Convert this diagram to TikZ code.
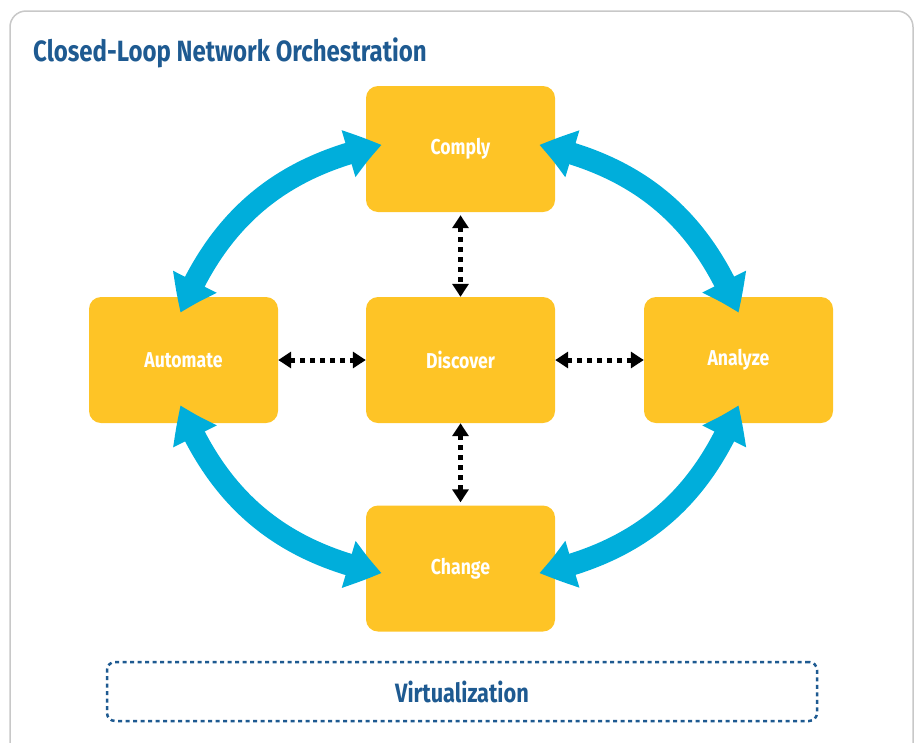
\documentclass[tikz,border=0pt]{standalone}
\usepackage{fontspec}
\setmainfont{Fira Sans}
\newfontfamily\condfont[FakeStretch=0.82]{Fira Sans}
\usetikzlibrary{arrows.meta,bending}
\definecolor{boxyellow}{RGB}{254,196,38}
\definecolor{loopblue}{RGB}{0,174,219}
\definecolor{titleblue}{RGB}{30,90,145}
\definecolor{framegray}{RGB}{200,200,200}
\begin{document}
\begin{tikzpicture}[x=1pt,y=-1pt,
  stagebox/.style={fill=boxyellow, rounded corners=12pt, minimum width=189pt, minimum height=126pt, inner sep=0pt, text=white, font=\condfont\bfseries\fontsize{21.5}{26}\selectfont},
  loopbi/.style={draw=loopblue, line width=22pt, {Triangle[length=35pt,width=46pt,bend]}-{Triangle[length=35pt,width=46pt,bend]}},
  linkbi/.style={draw=black, line width=5pt, dash pattern=on 5pt off 5pt, {Triangle[length=13pt,width=16pt]}-{Triangle[length=13pt,width=16pt]}},
  virtbox/.style={draw=titleblue, line width=2.5pt, dash pattern=on 4pt off 3.5pt, rounded corners=8pt, minimum width=710pt, minimum height=59pt, inner sep=0pt, text=titleblue, font=\condfont\bfseries\fontsize{26.5}{31}\selectfont},
]
\useasboundingbox (0,0) rectangle (917,742);
\draw[framegray, line width=1.5pt, rounded corners=16pt] (10,11) rectangle (913,762);
\node[anchor=base west, text=titleblue, font=\condfont\bfseries\fontsize{29.3}{34}\selectfont, inner sep=0pt] (title) at (33,61) {Closed-Loop Network Orchestration};

\node[stagebox] (comply) at (460.5,149) {Comply};
\node[stagebox] (discover) at (460.5,360) {Discover};
\node[stagebox] (automate) at (183.5,360) {Automate};
\node[stagebox] (analyze) at (738.5,360) {Analyze};
\node[stagebox] (change) at (460.5,568.5) {Change};

\draw[loopbi] ([xshift=16pt,yshift=4pt]comply.west) to[bend right=28] ([xshift=-3pt,yshift=-16pt]automate.north);
\draw[loopbi] ([xshift=-16pt,yshift=4pt]comply.east) to[bend left=28] ([xshift=0pt,yshift=-16pt]analyze.north);
\draw[loopbi] ([xshift=-3pt,yshift=18pt]automate.south) to[bend right=28] ([xshift=16pt,yshift=-4.5pt]change.west);
\draw[loopbi] ([xshift=0pt,yshift=18pt]analyze.south) to[bend left=28] ([xshift=-16pt,yshift=-4.5pt]change.east);

\draw[linkbi] ([yshift=-3pt]comply.south) -- (discover.north);
\draw[linkbi] (discover.south) -- ([yshift=3pt]change.north);
\draw[linkbi] (automate.east) -- (discover.west);
\draw[linkbi] (discover.east) -- (analyze.west);

\node[virtbox] (virt) at (462,691.5) {Virtualization};
\end{tikzpicture}
\end{document}
